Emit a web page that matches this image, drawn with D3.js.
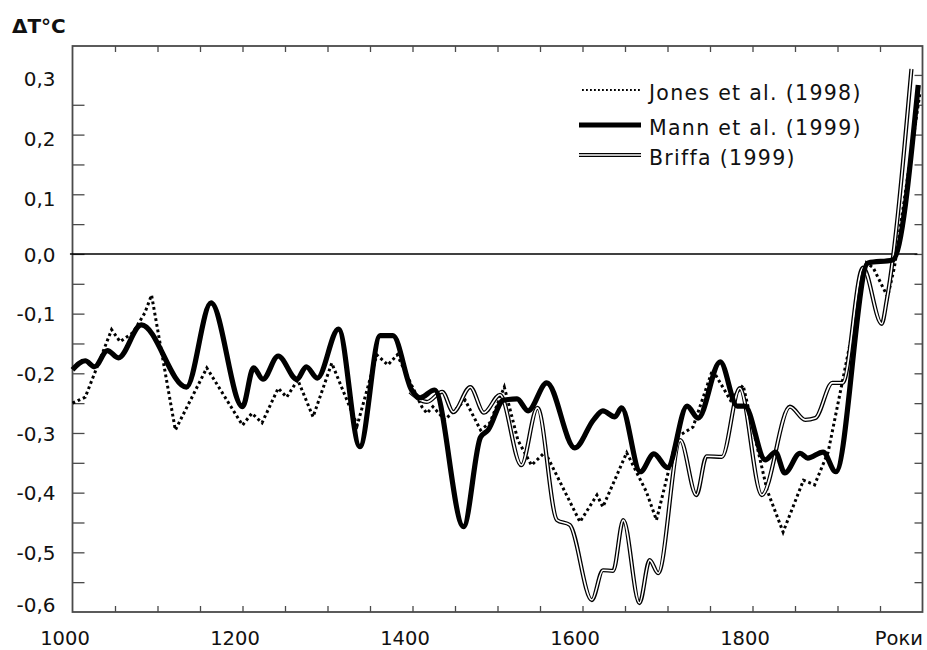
<!DOCTYPE html>
<html><head><meta charset="utf-8">
<script src="https://cdn.jsdelivr.net/npm/d3@7"></script>
<style>
html,body{margin:0;padding:0;background:#fff;}
svg{display:block;}
text{font-family:"DejaVu Sans",sans-serif;fill:#111;}
</style></head>
<body>
<svg id="chart" width="927" height="650"></svg>
<script>
// ---- data ----
const mannYears  = [1000,1015,1026,1041,1054,1081,1134,1163,1200,1213,1224,1242,1264,1275,1288,1313,1338,1362,1377,1399,1409,1426,1460,1480,1489,1507,1523,1536,1558,1591,1613,1624,1638,1646,1668,1684,1700,1723,1736,1762,1782,1791,1815,1827,1838,1856,1865,1883,1898,1936,1965,1995];
const mannValues = [-0.194,-0.179,-0.189,-0.162,-0.174,-0.119,-0.223,-0.082,-0.256,-0.191,-0.210,-0.171,-0.210,-0.189,-0.208,-0.126,-0.323,-0.137,-0.137,-0.228,-0.241,-0.228,-0.457,-0.307,-0.295,-0.245,-0.243,-0.263,-0.216,-0.325,-0.278,-0.263,-0.273,-0.258,-0.365,-0.335,-0.358,-0.255,-0.275,-0.181,-0.255,-0.255,-0.345,-0.332,-0.367,-0.334,-0.342,-0.332,-0.365,-0.015,-0.010,0.283];

const jonesYears  = [1000,1015,1046,1056,1071,1085,1093,1121,1158,1200,1211,1223,1242,1252,1265,1283,1305,1335,1358,1371,1382,1411,1417,1424,1438,1462,1480,1491,1508,1524,1540,1556,1597,1617,1624,1652,1675,1687,1711,1730,1753,1774,1789,1817,1836,1860,1873,1889,1934,1942,1959,1967,1997];
const jonesValues = [-0.250,-0.240,-0.127,-0.147,-0.132,-0.099,-0.069,-0.295,-0.191,-0.287,-0.267,-0.283,-0.225,-0.240,-0.211,-0.273,-0.183,-0.287,-0.169,-0.186,-0.169,-0.256,-0.267,-0.256,-0.278,-0.245,-0.295,-0.283,-0.223,-0.312,-0.354,-0.332,-0.449,-0.404,-0.424,-0.333,-0.398,-0.446,-0.307,-0.290,-0.194,-0.245,-0.220,-0.395,-0.466,-0.379,-0.387,-0.332,-0.015,-0.023,-0.072,-0.022,0.270];

const briffaYears  = [1397,1417,1435,1448,1468,1484,1503,1528,1547,1570,1585,1611,1624,1636,1648,1667,1679,1689,1715,1734,1746,1764,1785,1811,1844,1862,1874,1894,1906,1930,1952,1958,1987];
const briffaValues = [-0.231,-0.248,-0.231,-0.265,-0.223,-0.266,-0.236,-0.354,-0.258,-0.446,-0.454,-0.580,-0.530,-0.531,-0.446,-0.585,-0.513,-0.535,-0.312,-0.404,-0.339,-0.340,-0.225,-0.404,-0.256,-0.278,-0.275,-0.216,-0.216,-0.023,-0.117,-0.077,0.310];

const xLabelYears = [1000,1200,1400,1600,1800,2000];
const xLastLabel = "Роки";
const yLabelValues = [0.3,0.2,0.1,0.0,-0.1,-0.2,-0.3,-0.4,-0.5,-0.6];
const legendLabels = ["Jones et al. (1998)","Mann et al. (1999)","Briffa (1999)"];
const yTitle = "ΔT°C";

// ---- layout ----
const FONT = "DejaVu Sans";
const svg = d3.select("#chart");
const L = 72.5, R = 922.5, T = 46, B = 612;
const x = d3.scaleLinear().domain([1000,2000]).range([L,R]);
const y = d3.scaleLinear().domain([-0.6,0.35]).range([B,45.1]);

const minorX = d3.range(1050,2000,50);
const minorYLeft = d3.range(-11,6).map(i=>i*0.05);
const minorYRight = d3.range(-11,7).map(i=>i*0.05);

const frameColor = "#4a4a4a";

// ticks via axes
svg.append("g").attr("transform",`translate(0,${T})`)
  .call(d3.axisTop(x).tickValues(minorX).tickSize(-6).tickFormat(""))
  .call(g=>g.select(".domain").remove())
  .call(g=>g.selectAll("line").attr("stroke",frameColor).attr("stroke-width",1.3));
svg.append("g").attr("transform",`translate(0,${B})`)
  .call(d3.axisBottom(x).tickValues(minorX).tickSize(-6).tickFormat(""))
  .call(g=>g.select(".domain").remove())
  .call(g=>g.selectAll("line").attr("stroke",frameColor).attr("stroke-width",1.3));
svg.append("g").attr("transform",`translate(${L},0)`)
  .call(d3.axisLeft(y).tickValues(minorYLeft).tickSize(-12).tickFormat(""))
  .call(g=>g.select(".domain").remove())
  .call(g=>g.selectAll("line").attr("stroke",frameColor).attr("stroke-width",1.3));
svg.append("g").attr("transform",`translate(${R},0)`)
  .call(d3.axisRight(y).tickValues(minorYRight).tickSize(-8).tickFormat(""))
  .call(g=>g.select(".domain").remove())
  .call(g=>g.selectAll("line").attr("stroke",frameColor).attr("stroke-width",1.3));

// frame
svg.append("rect").attr("x",L).attr("y",T).attr("width",R-L).attr("height",B-T)
  .attr("fill","none").attr("stroke",frameColor).attr("stroke-width",1.8);

// x labels
const xAx = svg.append("g").attr("transform",`translate(0,${B})`)
  .call(d3.axisBottom(x).tickValues(xLabelYears).tickSize(0).tickPadding(19)
    .tickFormat(d=> d===2000 ? xLastLabel : String(d)));
xAx.select(".domain").remove();
xAx.attr("font-family",FONT);
xAx.selectAll("text").attr("font-family",FONT).attr("font-size",19.5).attr("fill","#111")
  .attr("dx", d=> d===2000 ? 0 : -8)
  .attr("text-anchor", d=> d===2000 ? "end" : "middle");

// y labels
const fmt = v => d3.format(".1f")(v).replace(".",",").replace("−","-");
const yAx = svg.append("g").attr("transform",`translate(${L},0)`)
  .call(d3.axisLeft(y).tickValues(yLabelValues).tickSize(0).tickPadding(17).tickFormat(fmt));
yAx.select(".domain").remove();
yAx.attr("font-family",FONT);
yAx.selectAll("text").attr("font-family",FONT).attr("font-size",20).attr("fill","#111")
  .attr("dy", d=> d===-0.6 ? "-0.02em" : (d>0.05 ? "0.55em" : "0.36em"));

// title
svg.append("text").attr("x",12).attr("y",33).attr("font-family",FONT)
  .attr("font-size",20).attr("font-weight","bold").text(yTitle);

// zero line
svg.append("line").attr("x1",x(997)).attr("x2",x(1994)).attr("y1",y(0)).attr("y2",y(0))
  .attr("stroke","#000").attr("stroke-width",1.6);

// series
const toPts = (ys,vs)=> ys.map((yr,i)=>[yr,vs[i]]);
const smooth = d3.line().x(d=>x(d[0])).y(d=>y(d[1])).curve(d3.curveMonotoneX);
const straight = d3.line().x(d=>x(d[0])).y(d=>y(d[1])).curve(d3.curveLinear);

const briffa = toPts(briffaYears,briffaValues);
const jones = toPts(jonesYears,jonesValues);
const mann = toPts(mannYears,mannValues);

svg.append("path").datum(jones).attr("d",straight).attr("fill","none")
  .attr("stroke","#000").attr("stroke-width",3).attr("stroke-dasharray","2.8 2.9");

svg.append("path").datum(briffa).attr("d",smooth).attr("fill","none")
  .attr("stroke","#000").attr("stroke-width",4.2).attr("stroke-linejoin","round");
svg.append("path").datum(briffa).attr("d",smooth).attr("fill","none")
  .attr("stroke","#fff").attr("stroke-width",1.6).attr("stroke-linejoin","round");

svg.append("path").datum(mann).attr("d",smooth).attr("fill","none")
  .attr("stroke","#000").attr("stroke-width",5.2).attr("stroke-linejoin","round");

// legend
const lg = svg.append("g");
const legY = [90,125,155];
const legX0 = 579, legX1 = 641, legTx = 649;
lg.append("line").attr("x1",legX0+3).attr("x2",legX1).attr("y1",legY[0]).attr("y2",legY[0])
  .attr("stroke","#000").attr("stroke-width",2).attr("stroke-dasharray","1.8 2.2");
lg.append("line").attr("x1",legX0).attr("x2",legX1).attr("y1",legY[1]).attr("y2",legY[1])
  .attr("stroke","#000").attr("stroke-width",5);
lg.append("line").attr("x1",legX0).attr("x2",legX1).attr("y1",legY[2]).attr("y2",legY[2])
  .attr("stroke","#000").attr("stroke-width",4);
lg.append("line").attr("x1",legX0).attr("x2",legX1).attr("y1",legY[2]).attr("y2",legY[2])
  .attr("stroke","#fff").attr("stroke-width",1.4);
legendLabels.forEach((t,i)=>{
  lg.append("text").attr("x",legTx).attr("y",legY[i]+10).attr("font-family",FONT)
    .attr("font-size",20.5).attr("letter-spacing",1.3).text(t);
});
</script>
</body></html>
